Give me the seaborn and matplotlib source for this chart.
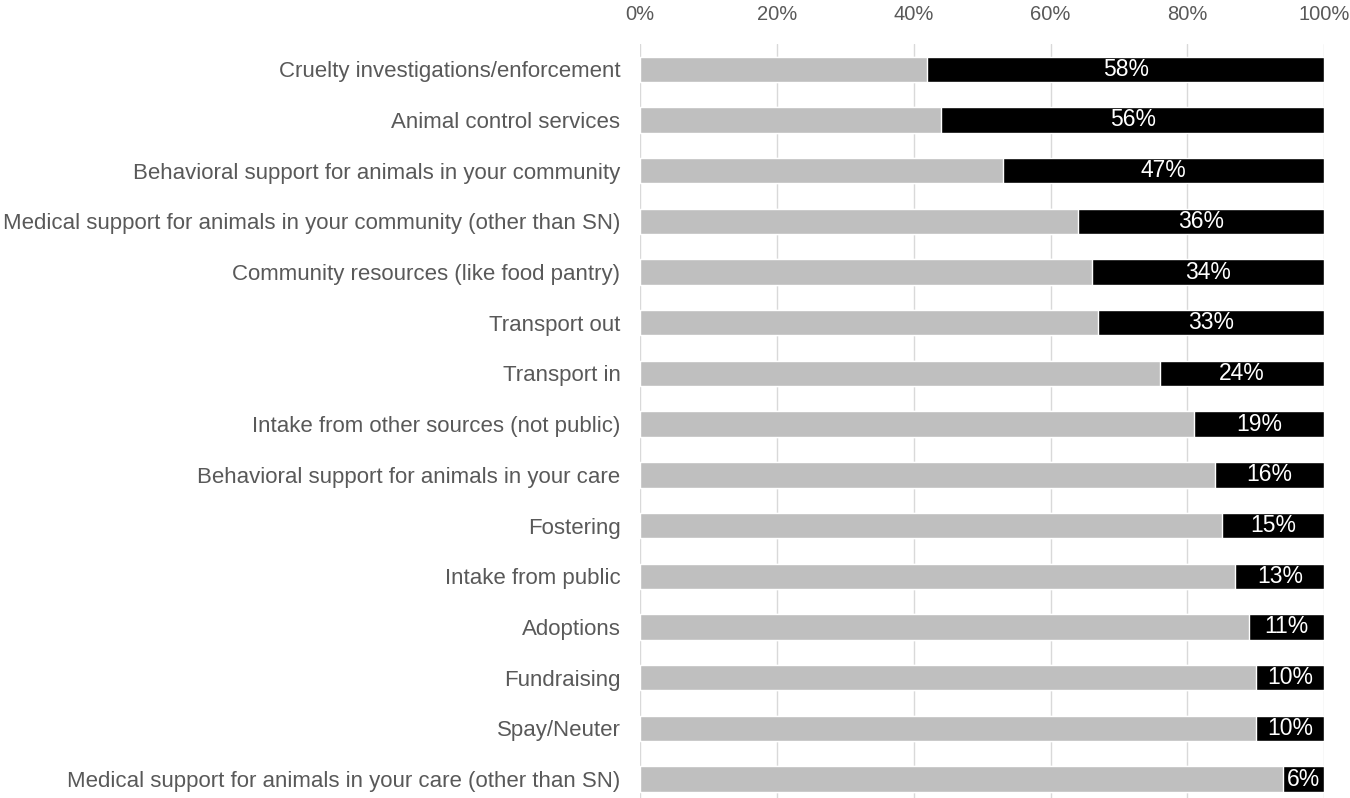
import pandas as pd
import matplotlib.pyplot as plt
import seaborn as sns
from matplotlib.ticker import PercentFormatter

# Data
categories = [
    "Cruelty investigations/enforcement",
    "Animal control services",
    "Behavioral support for animals in your community",
    "Medical support for animals in your community (other than SN)",
    "Community resources (like food pantry)",
    "Transport out",
    "Transport in",
    "Intake from other sources (not public)",
    "Behavioral support for animals in your care",
    "Fostering",
    "Intake from public",
    "Adoptions",
    "Fundraising",
    "Spay/Neuter",
    "Medical support for animals in your care (other than SN)",
]
black_pct = [58, 56, 47, 36, 34, 33, 24, 19, 16, 15, 13, 11, 10, 10, 6]

df = pd.DataFrame({"category": categories, "black": black_pct})
df["gray"] = 100 - df["black"]
df["total"] = 100

sns.set_theme(style="white")
plt.rcParams["font.family"] = ["Liberation Sans", "DejaVu Sans"]

fig = plt.figure(figsize=(13.5, 7.98), dpi=100)
ax = fig.add_axes([0.474, -0.008, 0.507, 0.953])

# stack: full black bar first, gray bar drawn over it from 0
sns.barplot(data=df, y="category", x="total", color="black", orient="h",
            width=0.5, saturation=1, ax=ax, zorder=2)
sns.barplot(data=df, y="category", x="gray", color="#bfbfbf", orient="h",
            width=0.5, saturation=1, ax=ax, zorder=3)

for i, row in df.iterrows():
    ax.text(row["gray"] + row["black"] / 2, i, f"{row['black']}%",
            ha="center", va="center", color="white", fontsize=16.5, zorder=4)

ax.set_xlim(0, 100)
ax.set_ylim(len(df) - 0.5, -0.5)
ax.set_xticks([0, 20, 40, 60, 80, 100])
ax.xaxis.set_major_formatter(PercentFormatter(decimals=0))
ax.xaxis.tick_top()
ax.xaxis.set_label_position("top")
ax.set_xlabel("")
ax.set_ylabel("")
ax.grid(axis="x", color="#d9d9d9", linewidth=1, zorder=0)
ax.set_axisbelow(True)
for s in ax.spines.values():
    s.set_visible(False)
ax.tick_params(axis="x", length=0, colors="#595959", labelsize=14.5, pad=14)
ax.tick_params(axis="y", length=0, colors="#595959", labelsize=16, pad=14)

fig.savefig("out.png", dpi=100)
